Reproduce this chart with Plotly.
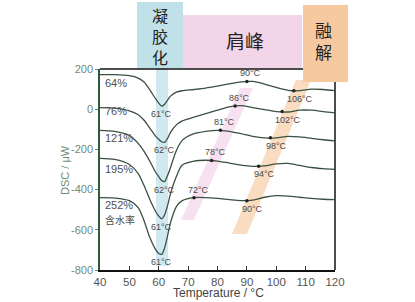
import plotly.graph_objects as go

# ---------------- data ----------------
temps = [40, 45, 50, 53, 55, 57, 59, 60, 61, 62, 63, 64, 66, 68, 72, 76, 80, 84, 88, 92, 96, 100, 104, 108, 112, 116, 120]

dsc_64 = [172, 172, 167, 155, 135, 95, 50, 30, 15, 25, 45, 65, 85, 92, 98, 105, 115, 126, 136, 138, 125, 108, 94, 92, 100, 98, 92]
dsc_76 = [8, 5, -8, -28, -55, -95, -135, -150, -162, -165, -145, -115, -78, -58, -40, -22, -5, 12, 18, 8, -2, -12, -14, -5, -5, -12, -18]
dsc_121 = [-105, -110, -130, -170, -210, -260, -315, -335, -355, -360, -330, -290, -205, -155, -122, -110, -105, -110, -122, -135, -143, -143, -135, -138, -145, -152, -158]
dsc_195 = [-245, -250, -275, -320, -380, -450, -510, -532, -545, -525, -480, -420, -335, -278, -258, -254, -258, -268, -278, -284, -282, -272, -270, -280, -290, -296, -300]
dsc_252 = [-440, -442, -455, -490, -555, -640, -700, -718, -722, -690, -630, -565, -485, -455, -440, -440, -444, -450, -455, -452, -438, -430, -432, -438, -444, -448, -450]

series = [dsc_64, dsc_76, dsc_121, dsc_195, dsc_252]
series_labels = ["64%", "76%", "121%", "195%", "252%"]
label_values = [130, -10, -145, -295, -475]

min_temps = [61, 62, 62, 61, 61]
min_values = [15, -165, -360, -545, -722]
shoulder_temps = [90, 86, 81, 78, 72]
shoulder_values = [138, 16, -105, -255, -440]
melt_temps = [106, 102, 98, 94, 90]
melt_values = [92, -12, -142, -284, -455]

x_ticks = [40, 50, 60, 70, 80, 90, 100, 110, 120]
y_ticks = [200, 0, -200, -400, -600, -800]

# ---------------- layout geometry ----------------
W, H = 415, 302
L, R, T, B = 100, 80, 69, 32
PW, PH = W - L - R, H - T - B

def px(x):
    return (x - L) / PW

def py(y):
    return (H - B - y) / PH

LINE = "#3a5142"
GREEN_TXT = "#6f8c74"
TXT = "#4a4a4a"

fig = go.Figure()
for vals in series:
    fig.add_trace(go.Scatter(x=temps, y=vals, mode="lines", line=dict(color=LINE, width=1.3, shape="spline", smoothing=0.8),
                             showlegend=False, hoverinfo="skip"))

fig.add_trace(go.Scatter(x=shoulder_temps + melt_temps, y=shoulder_values + melt_values, mode="markers",
                         marker=dict(color="#222", size=3.5), showlegend=False, hoverinfo="skip"))

shapes = []
# translucent strips (under curves)
shapes.append(dict(type="rect", xref="paper", yref="paper", x0=px(156), x1=px(168), y0=py(266), y1=py(68),
                   fillcolor="rgba(170,215,228,0.55)", line=dict(width=0), layer="below"))
shapes.append(dict(type="path", xref="paper", yref="paper",
                   path=f"M {px(240)},{py(88)} L {px(253)},{py(88)} L {px(194)},{py(220)} L {px(181)},{py(220)} Z",
                   fillcolor="rgba(236,180,220,0.4)", line=dict(width=0), layer="below"))
shapes.append(dict(type="path", xref="paper", yref="paper",
                   path=f"M {px(296)},{py(80)} L {px(311)},{py(80)} L {px(247)},{py(234)} L {px(232)},{py(234)} Z",
                   fillcolor="rgba(246,196,150,0.6)", line=dict(width=0), layer="below"))
# top border line
shapes.append(dict(type="line", xref="paper", yref="paper", x0=0, x1=1, y0=1, y1=1,
                   line=dict(color="#111", width=1.5), layer="above"))
# opaque header boxes
shapes.append(dict(type="rect", xref="paper", yref="paper", x0=px(137), x1=px(183), y0=py(68), y1=py(2),
                   fillcolor="#bfe1e7", line=dict(width=0), layer="above"))
shapes.append(dict(type="rect", xref="paper", yref="paper", x0=px(183), x1=px(302), y0=py(68), y1=py(15),
                   fillcolor="#f3d5ea", line=dict(width=0), layer="above"))
shapes.append(dict(type="rect", xref="paper", yref="paper", x0=px(303), x1=px(348), y0=py(82), y1=py(5),
                   fillcolor="#f7c9a0", line=dict(width=0), layer="above"))
shapes.append(dict(type="line", xref="paper", yref="paper", x0=1, x1=1, y0=0, y1=1,
                   line=dict(color="#111", width=1.5), layer="below"))

ann = []
CJK = "Noto Sans CJK SC"
def head(text, x, y, size):
    ann.append(dict(xref="paper", yref="paper", x=px(x), y=py(y), text=text, showarrow=False,
                    xanchor="center", yanchor="middle", font=dict(family=CJK, size=size, color="#222")))

head("凝<br>胶<br>化", 160, 36, 16)
head("肩峰", 245, 41, 19)
head("融<br>解", 323, 40, 17)

small = dict(family="Liberation Sans", size=9, color=TXT)
for t, v in zip(min_temps, min_values):
    ann.append(dict(x=t, y=v, text=f"{t}°C", showarrow=False, yshift=-8, font=small))
for t, v in zip(shoulder_temps, shoulder_values):
    ann.append(dict(x=t, y=v, text=f"{t}°C", showarrow=False, yshift=8, xshift=4, font=small))
for t, v in zip(melt_temps, melt_values):
    ann.append(dict(x=t, y=v, text=f"{t}°C", showarrow=False, yshift=-8, xshift=6, font=small))

lab = dict(family="Liberation Sans", size=11, color="#505050")
for s, v in zip(series_labels, label_values):
    ann.append(dict(x=41, y=v, text=s, showarrow=False, xanchor="left", yanchor="middle", font=lab))
ann.append(dict(x=41, y=-550, text="含水率", showarrow=False, xanchor="left", yanchor="middle",
                font=dict(family=CJK, size=10, color="#505050")))

# axis titles
ann.append(dict(xref="paper", yref="paper", x=px(218), y=py(293), text="Temperature / °C", showarrow=False,
                xanchor="center", yanchor="middle", font=dict(family="Liberation Sans", size=12, color="#444")))
ann.append(dict(xref="paper", yref="paper", x=px(65), y=py(170), text="DSC / μW", showarrow=False, textangle=-90,
                xanchor="center", yanchor="middle", font=dict(family="Liberation Sans", size=11, color=GREEN_TXT)))

fig.update_layout(
    width=W, height=H, margin=dict(l=L, r=R, t=T, b=B),
    plot_bgcolor="white", paper_bgcolor="white",
    shapes=shapes, annotations=ann,
    xaxis=dict(range=[40, 120], tickvals=x_ticks, ticktext=[str(v) for v in x_ticks], showgrid=False, zeroline=False,
               showline=True, linecolor="#111", linewidth=1.5, ticks="inside", ticklen=4, tickcolor="#333",
               automargin=False,
               tickfont=dict(family="Liberation Sans", size=11.5, color="#555")),
    yaxis=dict(range=[-800, 200], tickvals=y_ticks, ticktext=[str(v) for v in y_ticks], showgrid=False, zeroline=False,
               showline=True, linecolor="#2d5a3a", linewidth=1.5, ticks="outside", ticklen=3, tickcolor="#6f8c74",
               automargin=False,
               tickfont=dict(family="Liberation Sans", size=11, color=GREEN_TXT)),
)

fig.write_html("out.html")
